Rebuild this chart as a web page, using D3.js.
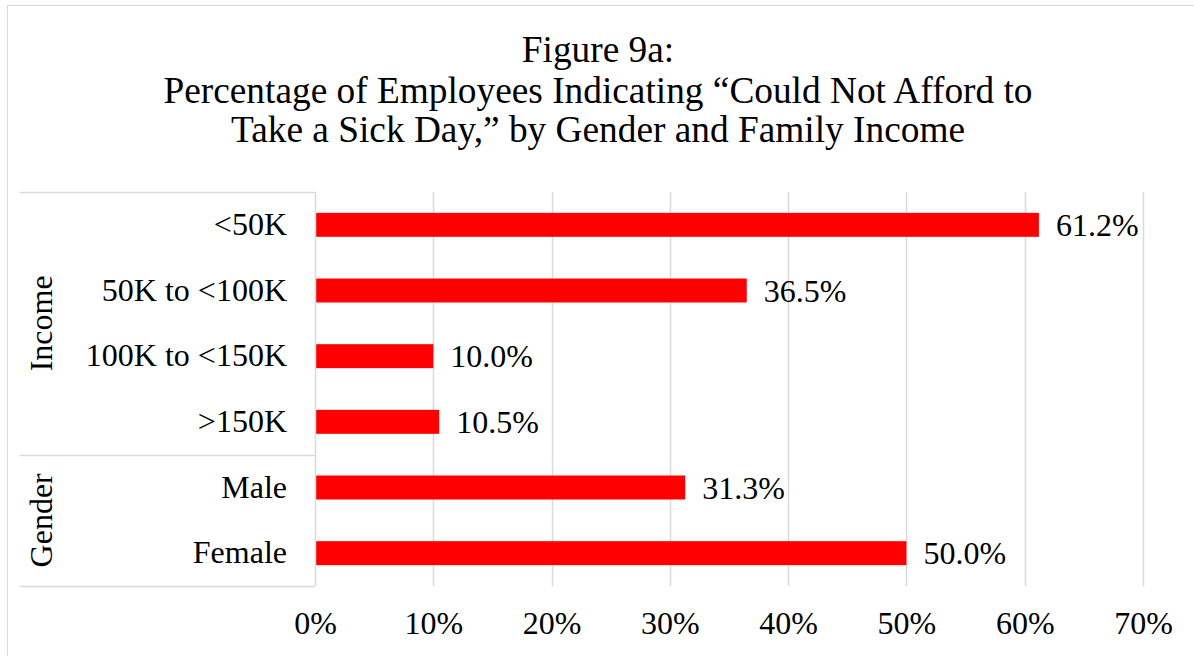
<!DOCTYPE html>
<html><head><meta charset="utf-8">
<script src="https://cdn.jsdelivr.net/npm/d3@7"></script>
<style>body{margin:0;background:#fff}svg{display:block;font-family:"Liberation Serif","Times New Roman",serif}</style>
</head><body><svg id="c" width="1194" height="656"></svg>
<script>
const categories = ["<50K","50K to <100K","100K to <150K",">150K","Male","Female"];
const values = [61.2, 36.5, 10.0, 10.5, 31.3, 50.0];
const groups = [{name:"Income", start:0, end:3},{name:"Gender", start:4, end:5}];
const ticks = [0,10,20,30,40,50,60,70];
const titleLines = ["Figure 9a:","Percentage of Employees Indicating \u201cCould Not Afford to","Take a Sick Day,\u201d by Gender and Family Income"];

const svg = d3.select("#c");
svg.append("rect").attr("x",7.5).attr("y",5.5).attr("width",1300).attr("height",800).attr("fill","#fff").attr("stroke","#d9d9d9");

const x = d3.scaleLinear().domain([0,70]).range([315,1143]);
const y = d3.scaleBand().domain(categories).range([192,586]).paddingInner(0.635).paddingOuter(0.3175);

const titleY = [62, 103, 142];
svg.append("g").selectAll("text").data(titleLines).join("text")
  .attr("x",598).attr("y",(d,i)=>titleY[i]).attr("text-anchor","middle").attr("font-size",37.33).attr("fill","#000").text(d=>d);

// gridlines
svg.append("g").selectAll("line").data(ticks.slice(1)).join("line")
  .attr("x1",d=>Math.round(x(d))+0.5).attr("x2",d=>Math.round(x(d))+0.5).attr("y1",192).attr("y2",586)
  .attr("stroke","#d9d9d9").attr("stroke-width",1.5);

// x axis labels
const xa = svg.append("g").attr("transform","translate(0,586)").call(d3.axisBottom(x).tickValues(ticks).tickFormat(d=>d+"%").tickSize(0).tickPadding(25));
xa.select(".domain").remove();
xa.selectAll("text").attr("font-size",32).attr("font-family","Liberation Serif").attr("fill","#000");

// bars
svg.append("g").selectAll("rect").data(values).join("rect")
  .attr("x",x(0)).attr("y",(d,i)=>y(categories[i])).attr("height",y.bandwidth())
  .attr("width",d=>x(d)-x(0)).attr("fill","#ff0000");

// value labels
svg.append("g").selectAll("text").data(values).join("text")
  .attr("x",d=>x(d)+17).attr("y",(d,i)=>y(categories[i])+y.bandwidth()/2).attr("dy","0.35em")
  .attr("font-size",32).attr("fill","#000").text(d=>d.toFixed(1)+"%");

// category axis
const ya = svg.append("g").attr("transform","translate(315,0)").call(d3.axisLeft(y).tickSize(0).tickPadding(28));
ya.select(".domain").remove();
ya.selectAll("text").attr("font-size",32).attr("font-family","Liberation Serif").attr("fill","#000");

svg.append("line").attr("x1",315.5).attr("x2",315.5).attr("y1",192).attr("y2",586).attr("stroke","#d9d9d9").attr("stroke-width",1.5);
const step = y.step();
const bounds = [192, 192 + step*4, 586];
svg.append("g").selectAll("line").data(bounds).join("line")
  .attr("x1",20).attr("x2",315).attr("y1",d=>Math.round(d)+0.5).attr("y2",d=>Math.round(d)+0.5)
  .attr("stroke","#d9d9d9").attr("stroke-width",1.5);

svg.append("g").selectAll("text").data(groups).join("text")
  .attr("transform",g=>{const cy=(y(categories[g.start])+y(categories[g.end])+y.bandwidth())/2;return `translate(52,${cy}) rotate(-90)`;})
  .attr("text-anchor","middle").attr("font-size",32).attr("fill","#000").text(g=>g.name);
</script></body></html>
